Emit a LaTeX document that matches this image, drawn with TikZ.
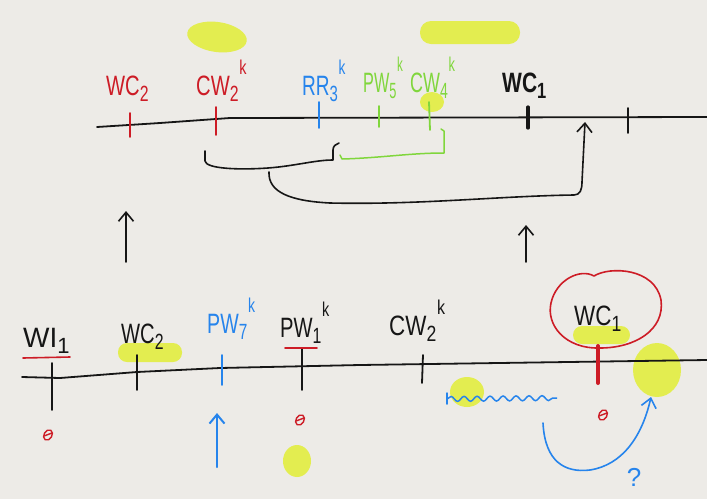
\documentclass[tikz,border=0pt]{standalone}
\usepackage{fontspec}
\usepackage{graphicx}
\setmainfont{Liberation Sans}
\usetikzlibrary{arrows.meta,decorations.pathmorphing}
\definecolor{paper}{RGB}{237,235,231}
\definecolor{ink}{RGB}{22,22,22}
\definecolor{penred}{RGB}{205,28,38}
\definecolor{penblue}{RGB}{38,132,236}
\definecolor{pengreen}{RGB}{128,214,60}
\definecolor{hilite}{RGB}{226,238,64}
\newcommand{\lbl}[4][0.72]{\scalebox{#1}[1]{#2\raisebox{-6pt}{\fontsize{22}{22}\selectfont #3}\raisebox{21pt}{\fontsize{20}{20}\selectfont\hspace{1pt}#4}}}
\begin{document}
\begin{tikzpicture}[x=1pt,y=-1pt,
  lab/.style={inner sep=0pt, anchor=base west, font=\fontsize{28}{30}\selectfont},
  axis/.style={line width=1.8pt, draw=ink, line join=round, line cap=round},
  tk/.style={line width=1.8pt, line cap=round},
  hl/.style={fill=hilite, draw=none, opacity=0.9},
  arr/.style={line width=1.6pt, line cap=round, line join=round, -{Straight Barb[length=9pt,width=15pt]}},
  mark8/.style={draw=penred, line width=1.4pt}
  ]
\fill[paper] (0,0) rectangle (707,499);
\useasboundingbox (0,0) rectangle (707,499);

% highlights
\fill[hl, rotate around={-8:(217,37)}] (217,37) ellipse [x radius=30, y radius=15];
\fill[hl, rounded corners=11pt] (420,21) rectangle (520,44);
\fill[hl] (432,102) ellipse [x radius=12, y radius=10];
\fill[hl, rounded corners=9pt] (118,343) rectangle (182,362);
\fill[hl] (297,461) ellipse [x radius=14, y radius=16];
\fill[hl] (467,392) ellipse [x radius=17, y radius=15];
\fill[hl, rounded corners=9pt] (573,326) rectangle (630,344);
\fill[hl] (657,370) ellipse [x radius=24, y radius=27];

% top timeline
\draw[axis] (97,127) -- (160,123) -- (230,118) -- (707,117);
\draw[tk, penred] (130,113) -- (130,137);
\draw[tk, penred] (216,107) -- (216,135);
\draw[tk, penblue] (319,102) -- (319,128);
\draw[tk, pengreen] (379,106) -- (379,127);
\draw[tk, pengreen] (429,102) -- (430,130);
\draw[tk, ink, line width=3.2pt] (528,107) -- (528,128);
\draw[tk, ink] (628,108) -- (628,133);

\node[lab, penred] (wc2t) at (106,95) {\lbl{WC}{2}{}};
\node[lab, penred] (cw2t) at (196,95) {\lbl{CW}{2}{k}};
\node[lab, penblue] (rr3t) at (302,95) {\lbl[0.68]{RR}{3}{k}};
\node[lab, pengreen] (pw5t) at (363,92) {\lbl[0.58]{PW}{5}{k}};
\node[lab, pengreen] (cw4t) at (410,92) {\lbl[0.64]{CW}{4}{k}};
\node[lab, ink] (wc1t) at (502,92) {\bfseries\lbl[0.75]{WC}{1}{}};

% brackets
\coordinate (b1s) at (205,151);
\coordinate (b1e) at (339,143);
\draw[ink, line width=1.6pt, line cap=round, line join=round]
  (b1s) -- (205,161) .. controls (206,169) and (240,170) .. (268,168)
  .. controls (295,166) and (315,160) .. (333,160) -- (333,150) .. controls (333,146) and (336,144) .. (b1e);
\coordinate (g1s) at (340,155);
\coordinate (g1e) at (441,129);
\draw[pengreen, line width=1.5pt, line cap=round, line join=round]
  (g1s) -- (342,159) .. controls (380,158) and (410,153) .. (444,153) -- (444,131) -- (g1e);
\coordinate (b2s) at (269,172);
\coordinate (b2e) at (585,122);
\draw[arr, ink]
  (b2s) .. controls (268,192) and (290,201) .. (330,203)
  .. controls (420,205) and (500,196) .. (574,195)
  .. controls (580,195) and (582,190) .. (582,182) -- (b2e);

% up arrows between timelines
\coordinate (ua1s) at (126,262); \coordinate (ua1e) at (126,211);
\coordinate (ua2s) at (526,262); \coordinate (ua2e) at (526,225);
\draw[arr, ink] (ua1s) -- (ua1e);
\draw[arr, ink] (ua2s) -- (ua2e);

% bottom timeline
\draw[axis] (22,377) -- (60,378) -- (137,372) -- (220,368) -- (360,365) -- (707,360);
\draw[tk, ink] (52,363) -- (52,410);
\draw[tk, ink] (137,355) -- (137,390);
\draw[tk, penblue] (222,355) -- (222,385);
\draw[tk, ink] (302,348) -- (302,390);
\draw[tk, ink] (423,355) -- (422,383);
\draw[tk, penred, line width=4pt] (598,346) -- (598,383);

\draw[penred, line width=1.6pt, line cap=round] (23,358) -- (70,357);
\draw[penred, line width=1.6pt, line cap=round] (285,348) -- (317,348);

\node[lab, ink] (wi1b) at (23,347) {\lbl[1.0]{WI}{1}{}};
\node[lab, ink] (wc2b) at (121,343) {\lbl{WC}{2}{}};
\node[lab, penblue] (pw7b) at (207,333) {\lbl[0.7]{PW}{7}{k}};
\node[lab, ink] (pw1b) at (280,337) {\lbl[0.72]{PW}{1}{k}};
\node[lab, ink] (cw2b) at (389,335) {\lbl[0.8]{CW}{2}{k}};
\node[lab, ink] (wc1b) at (574,325) {\lbl[0.8]{WC}{1}{}};

% red circle around WC1
\draw[penred, line width=1.6pt, line join=round]
  (600,348) .. controls (565,349) and (546,325) .. (551,303)
  .. controls (556,280) and (580,268) .. (594,276)
  .. controls (610,266) and (655,268) .. (661,300)
  .. controls (665,330) and (635,348) .. (600,348);

% red marks
\draw[mark8, rotate around={-30:(48,435)}] (48,435) ellipse [x radius=4, y radius=5.5];
\draw[mark8] (44,436) -- (52,433);
\draw[mark8, rotate around={-30:(300,420)}] (300,420) ellipse [x radius=4, y radius=5.5];
\draw[mark8] (296,421) -- (304,418);
\draw[mark8, rotate around={-30:(603,415)}] (603,415) ellipse [x radius=4, y radius=5.5];
\draw[mark8] (599,416) -- (607,413);

% blue marks
\coordinate (bas) at (217,467); \coordinate (bae) at (217,413);
\draw[arr, penblue, line width=2pt] (bas) -- (bae);
\draw[penblue, line width=1.5pt, line cap=round] (447,393) -- (447,404);
\draw[penblue, line width=1.5pt, decorate, decoration={snake, segment length=13pt, amplitude=2.5pt}] (447,399) -- (557,398);
\coordinate (cas) at (543,423); \coordinate (cae) at (651,397);
\draw[arr, penblue] (cas) .. controls (545,462) and (565,473) .. (590,470)
  .. controls (622,465) and (642,437) .. (cae);
\node[inner sep=0pt, penblue, font=\fontsize{26}{28}\selectfont] (qm) at (634,477) {?};
\end{tikzpicture}
\end{document}
